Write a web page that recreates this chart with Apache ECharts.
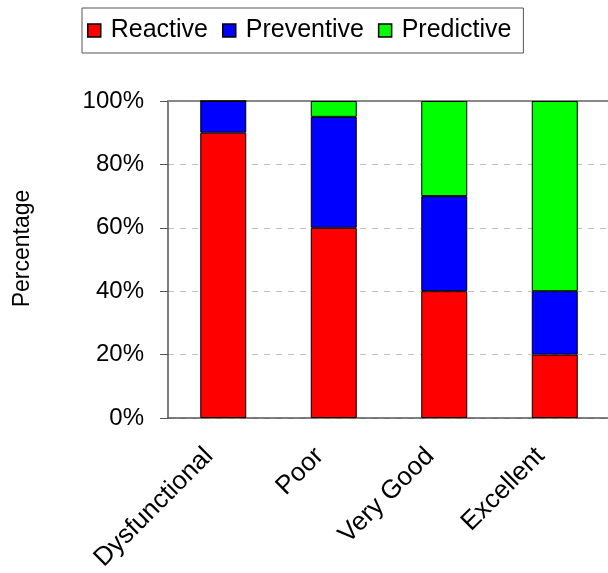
<!DOCTYPE html>
<html><head><meta charset="utf-8">
<script src="https://cdn.jsdelivr.net/npm/echarts@6/dist/echarts.min.js"></script>
<style>html,body{margin:0;padding:0;background:#fff}#c{width:608px;height:573px}</style>
</head><body><div id="c"></div>
<script>
const categories = ['Dysfunctional', 'Poor', 'Very Good', 'Excellent'];
const reactive = [90, 60, 40, 20];
const preventive = [10, 35, 30, 20];
const predictive = [0, 5, 30, 60];
const yTicks = [0, 20, 40, 60, 80, 100];

const chart = echarts.init(document.getElementById('c'), null, {renderer: 'canvas'});
const font = 'Liberation Sans, Arial, sans-serif';
function mk(name, data, color) {
  return {name, type: 'bar', stack: 's', data, barWidth: 46,
    itemStyle: {color, borderColor: '#000', borderWidth: 1}};
}
chart.setOption({
  animation: false,
  textStyle: {fontFamily: font},
  legend: {
    top: 8, left: 82, itemWidth: 13, itemHeight: 13, itemGap: 14,
    borderColor: '#555', borderWidth: 1, padding: [10, 12, 10, 5],
    textStyle: {fontSize: 25, color: '#000', fontFamily: font, padding: [0, 0, 0, 5]},
    icon: 'rect',
    data: ['Reactive', 'Preventive', 'Predictive'].map(n => ({name: n, itemStyle: {borderColor: '#000', borderWidth: 1.5}}))
  },
  grid: {left: 168, right: -2, top: 101, bottom: 155, containLabel: false, outerBoundsMode: 'none'},
  xAxis: [{
    type: 'category', data: categories,
    axisLine: {lineStyle: {color: '#555', width: 1.5}},
    axisTick: {length: 8, lineStyle: {color: '#555'}},
    axisLabel: {rotate: 45, fontSize: 26, color: '#000', margin: 20, fontFamily: font, interval: 0,
      padding: [0, 20, 0, 0]}
  }, {
    type: 'category', position: 'top', data: categories,
    axisLine: {lineStyle: {color: '#888', width: 2}},
    axisTick: {show: false}, axisLabel: {show: false}
  }],
  yAxis: {
    type: 'value', min: 0, max: 100, interval: 20,
    name: 'Percentage', nameLocation: 'middle', nameGap: 134,
    nameTextStyle: {fontSize: 23, color: '#000', fontFamily: font, padding: [0, 0, 0, 22]},
    axisLine: {show: true, lineStyle: {color: '#555', width: 1.5}},
    axisTick: {show: true, length: 8, lineStyle: {color: '#555'}},
    axisLabel: {fontSize: 24, color: '#000', margin: 24, fontFamily: font,
      formatter: v => yTicks.includes(v) ? v + '%' : ''},
    splitLine: {show: true, lineStyle: {color: '#c0c0c0', type: [6, 6]}}
  },
  series: [
    mk('Reactive', reactive, '#ff0000'),
    mk('Preventive', preventive, '#0000ff'),
    mk('Predictive', predictive, '#00ff00')
  ]
});
</script></body></html>
